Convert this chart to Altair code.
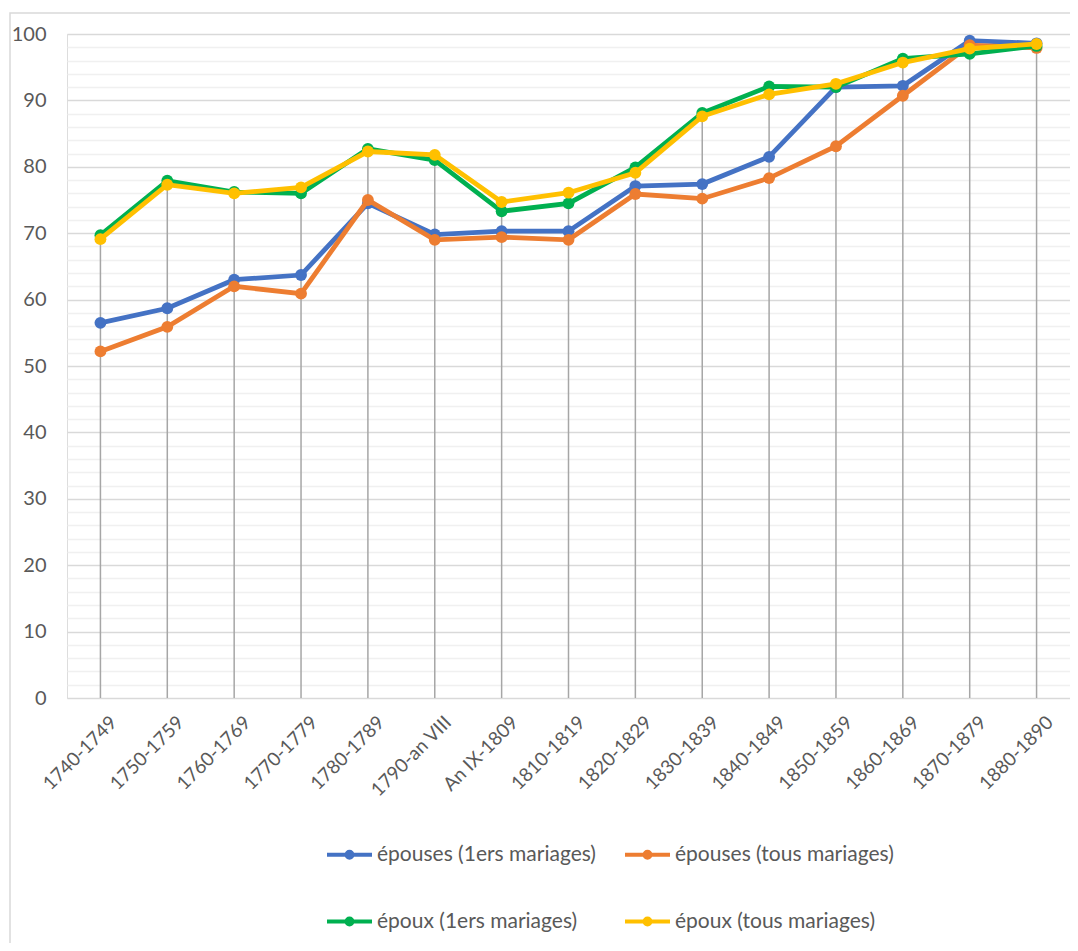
import altair as alt
import pandas as pd

categories = ["1740-1749", "1750-1759", "1760-1769", "1770-1779", "1780-1789",
              "1790-an VIII", "An IX-1809", "1810-1819", "1820-1829", "1830-1839",
              "1840-1849", "1850-1859", "1860-1869", "1870-1879", "1880-1890"]
series_names = ["épouses (1ers mariages)", "épouses (tous mariages)",
                "époux (1ers mariages)", "époux (tous mariages)"]
epouses_1ers = [56.5, 58.7, 63.0, 63.7, 74.5, 69.8, 70.3, 70.3, 77.1, 77.4, 81.5, 92.0, 92.2, 99.0, 98.6]
epouses_tous = [52.2, 55.9, 62.0, 60.9, 75.0, 69.0, 69.4, 69.0, 75.9, 75.2, 78.3, 83.1, 90.7, 98.3, 97.9]
epoux_1ers = [69.7, 77.9, 76.2, 76.0, 82.7, 81.0, 73.3, 74.5, 79.9, 88.1, 92.1, 92.0, 96.3, 97.0, 98.2]
epoux_tous = [69.1, 77.3, 76.0, 76.9, 82.3, 81.8, 74.7, 76.1, 79.1, 87.6, 90.9, 92.5, 95.7, 97.8, 98.5]
colors = ["#4472C4", "#ED7D31", "#00B050", "#FFC000"]
y_ticks = list(range(0, 101, 2))

rows = []
for s, vals in zip(series_names, [epouses_1ers, epouses_tous, epoux_1ers, epoux_tous]):
    for c, v in zip(categories, vals):
        rows.append({"periode": c, "serie": s, "valeur": v})
df = pd.DataFrame(rows)

FONT = "Lato"
TXT = "#595959"

x_enc = alt.X("periode:N", sort=categories,
              scale=alt.Scale(type="point", padding=0.5),
              axis=alt.Axis(title=None, labelAngle=-45, labelAlign="right",
                            labelBaseline="middle", labelFontSize=19, labelFont=FONT,
                            labelColor=TXT, ticks=False, domain=False, grid=False,
                            labelPadding=21, labelOffset=13, labelOverlap=False))
y_axis = alt.Axis(title=None, values=y_ticks,
                  labelExpr="datum.value % 10 === 0 ? datum.label : ''",
                  gridColor={"condition": {"test": "datum.value % 10 === 0", "value": "#d9d9d9"},
                             "value": "#f0f0f0"},
                  gridWidth=1.3, ticks=False, domain=False, labelFontSize=20,
                  labelFont=FONT, labelColor=TXT, labelPadding=21)
y_scale = alt.Scale(domain=[0, 100], nice=False, zero=True)

color_scale = alt.Scale(domain=series_names, range=colors)
legend = alt.Legend(title=None, orient="none", legendX=258, legendY=796, columns=2,
                    direction="horizontal",
                    symbolType="M-1,0L1,0M-0.13,0A0.13,0.13,0,1,1,0.13,0A0.13,0.13,0,1,1,-0.13,0",
                    symbolSize=2025, symbolStrokeWidth=4, labelFontSize=21, labelFont=FONT,
                    labelColor=TXT, labelOffset=3, rowPadding=31, columnPadding=21,
                    labelLimit=400)

base = alt.Chart(df)

drops = base.transform_aggregate(
    top="max(valeur)", groupby=["periode"]
).mark_rule(color="#a6a6a6", strokeWidth=1.5).encode(
    x=x_enc,
    y=alt.Y("top:Q", scale=y_scale, axis=y_axis),
    y2=alt.datum(0),
)

layers = [drops]
for s in series_names:
    sub = base.transform_filter(alt.datum.serie == s)
    line = sub.mark_line(strokeWidth=4.8).encode(
        x=x_enc,
        y=alt.Y("valeur:Q", scale=y_scale, axis=y_axis),
        color=alt.Color("serie:N", scale=color_scale, legend=legend),
    )
    pts = sub.mark_circle(size=140, opacity=1).encode(
        x=x_enc,
        y=alt.Y("valeur:Q", scale=y_scale, axis=y_axis),
        color=alt.Color("serie:N", scale=color_scale, legend=None),
    )
    layers += [line, pts]

frame = alt.Chart(pd.DataFrame({"a": [0]})).mark_rect(
    fill=None, stroke="#d9d9d9", strokeWidth=1.5
).encode(x=alt.value(-57), x2=alt.value(1200), y=alt.value(-21), y2=alt.value(1200))

chart = alt.layer(frame, *layers).properties(
    width=1003, height=664,
    padding={"left": 59, "top": 26, "right": 0, "bottom": 245},
    autosize=alt.AutoSizeParams(type="none"),
).configure_view(stroke=None).configure(background="white")

chart.save("out.html", embed_options={"renderer": "svg", "actions": False})
